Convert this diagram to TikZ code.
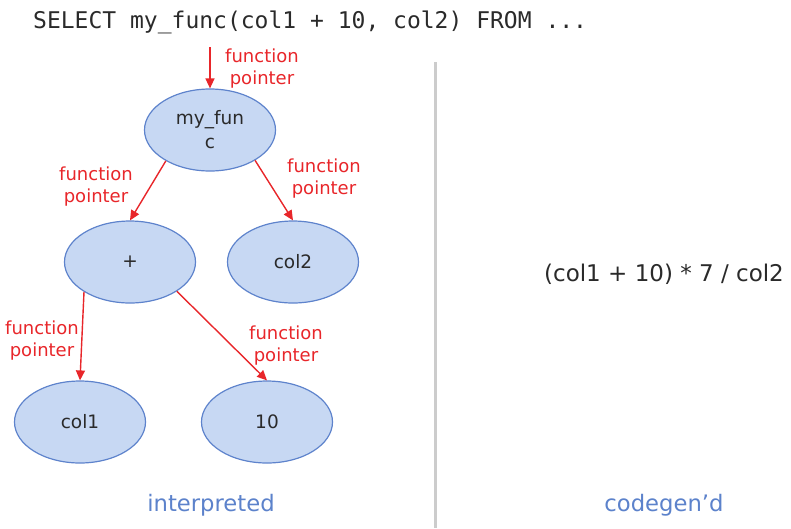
\documentclass[tikz,border=0pt]{standalone}
\usepackage{fontspec}
\setmainfont{DejaVu Sans}
\newfontfamily\monofnt{DejaVu Sans Mono}
\usetikzlibrary{arrows.meta,shapes.geometric}
\definecolor{nodefill}{HTML}{C7D8F3}
\definecolor{nodedraw}{HTML}{5E83CC}
\definecolor{ptrred}{HTML}{E8262A}
\definecolor{captblue}{HTML}{5C82CB}
\definecolor{txtdark}{HTML}{2A2A2A}
\begin{document}
\begin{tikzpicture}[x=1pt,y=-1pt,
  tnode/.style={ellipse,draw=nodedraw,fill=nodefill,line width=1.2pt,minimum width=131pt,minimum height=82pt,inner sep=0pt,font=\fontsize{18.5}{24}\selectfont,text=txtdark,align=center},
  ptr/.style={draw=ptrred,line width=1.4pt,-{Triangle[length=10pt,width=9pt]}},
  plab/.style={text=ptrred,font=\fontsize{18}{22}\selectfont,inner sep=0pt,align=center},
  capt/.style={text=captblue,font=\fontsize{22.7}{26}\selectfont,inner sep=0pt}]
\useasboundingbox (0,0) rectangle (791,528);
\node[anchor=base west,inner sep=0pt,text=txtdark,font=\monofnt\fontsize{23}{26}\selectfont] (sql) at (33,28) {SELECT my\_func(col1 + 10, col2) FROM ...};
\draw[draw=black!20,line width=3pt] (435,62) -- (435,528);
\coordinate (top) at (210,47);
\node[tnode] (f) at (210,130) {my\_fun\\c};
\node[tnode] (plus) at (130,262) {+};
\node[tnode] (c2) at (293,262) {col2};
\node[tnode] (c1) at (80,422) {col1};
\node[tnode] (ten) at (267,422) {10};
\draw[ptr] (top) -- (f.north);
\draw[ptr] (f.-145) -- (plus.north);
\draw[ptr] (f.-34) -- (c2.north);
\draw[ptr] (plus.-147) -- (c1.north);
\draw[ptr] (plus.-32) -- (ten.north);
\node[plab] (l0) at (262,69) {function\\pointer};
\node[plab] (l1) at (96,187) {function\\pointer};
\node[plab] (l2) at (324,179) {function\\pointer};
\node[plab] (l3) at (42,341) {function\\pointer};
\node[plab] (l4) at (286,346) {function\\pointer};
\node[inner sep=0pt,text=txtdark,font=\fontsize{23}{26}\selectfont] (expr) at (664,274) {(col1 + 10) * 7 / col2};
\node[capt] (i) at (211,505) {interpreted};
\node[capt] (cg) at (664,505) {codegen’d};
\end{tikzpicture}
\end{document}
